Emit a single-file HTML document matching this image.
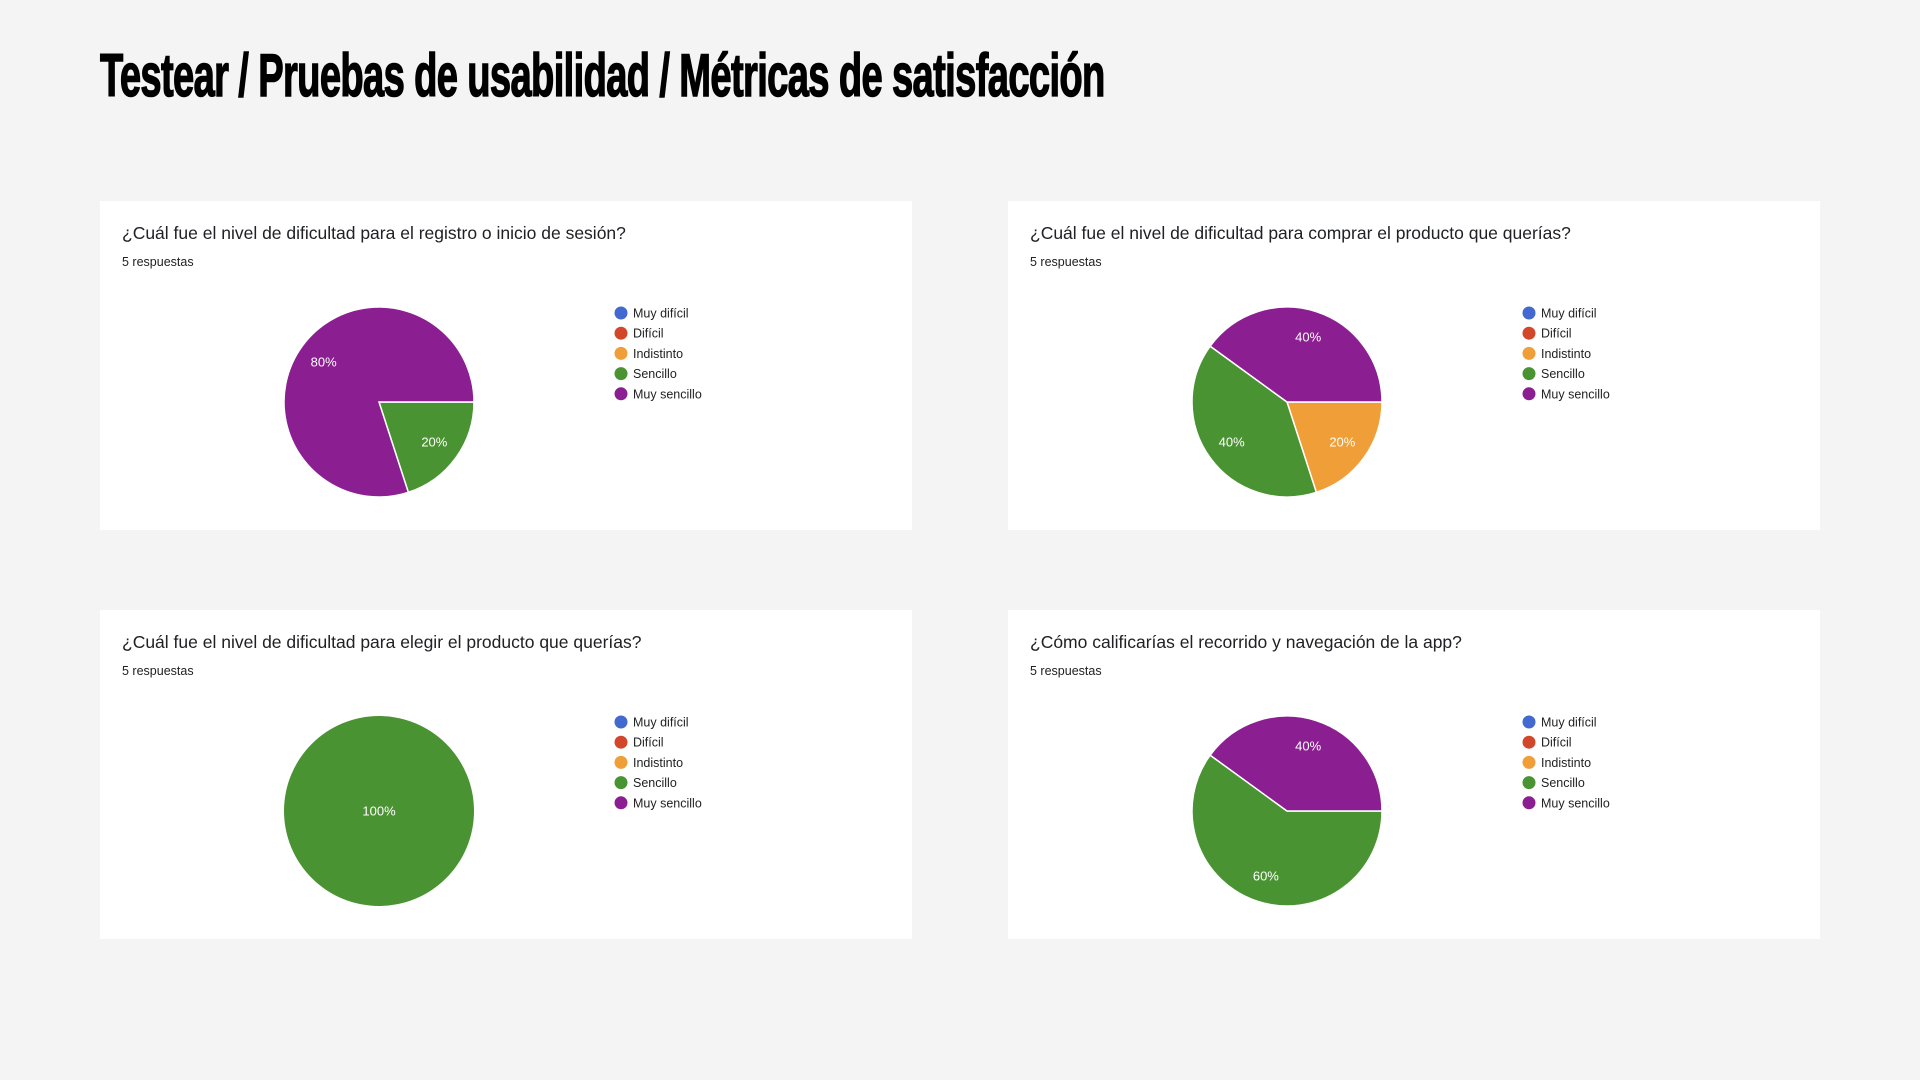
<!DOCTYPE html>
<html><head><meta charset="utf-8">
<style>
html,body{margin:0;padding:0;}
body{width:1920px;height:1080px;background:#f4f4f4;position:relative;overflow:hidden;font-family:"Liberation Sans",sans-serif;}
#title{position:absolute;left:100px;top:46px;font-family:"Liberation Sans Narrow","Liberation Sans",sans-serif;font-weight:bold;font-size:60px;line-height:60px;color:#000;white-space:nowrap;transform-origin:0 0;letter-spacing:-1px;-webkit-text-stroke:1.5px #000;}
.card{position:absolute;width:812px;height:329px;background:#fff;}
.q{position:absolute;left:22px;top:22px;font-size:17.5px;color:#202124;white-space:nowrap;}
.n{position:absolute;left:22px;top:54px;font-size:12.5px;color:#202124;}
.card svg{position:absolute;left:0;top:0;}
</style></head><body>
<div id="title">Testear / Pruebas de usabilidad / Métricas de satisfacción</div>
<div id="cards"></div>
<script>
var categories=["Muy difícil","Difícil","Indistinto","Sencillo","Muy sencillo"];
var colors=["#4169cf","#d2462a","#f09e38","#4a9332","#8b1e91"];
var questions=["¿Cuál fue el nivel de dificultad para el registro o inicio de sesión?","¿Cuál fue el nivel de dificultad para comprar el producto que querías?","¿Cuál fue el nivel de dificultad para elegir el producto que querías?","¿Cómo calificarías el recorrido y navegación de la app?"];
var responses=[5,5,5,5];
var chart1Values=[0,0,0,1,4];
var chart2Values=[0,0,1,2,2];
var chart3Values=[0,0,0,5,0];
var chart4Values=[0,0,0,3,2];
var allValues=[chart1Values,chart2Values,chart3Values,chart4Values];
var cardPos=[[100,201],[1008,201],[100,610],[1008,610]];
var NS="http://www.w3.org/2000/svg";
var CX=279,CY=201,R=95;
function pt(a,r){var t=a*Math.PI/180;return [CX+r*Math.sin(t),CY-r*Math.cos(t)];}
var t=document.getElementById('title');
t.style.transform='scaleX('+(1005/t.offsetWidth)+')';
var wrap=document.getElementById('cards');
questions.forEach(function(q,i){
  var c=document.createElement('div');c.className='card';
  
  
  c.style.left=cardPos[i][0]+'px';c.style.top=cardPos[i][1]+'px';
  var qe=document.createElement('div');qe.className='q';qe.textContent=q;
  
  
  c.appendChild(qe);
  var ne=document.createElement('div');ne.className='n';ne.textContent=responses[i]+' respuestas';
  
  
  c.appendChild(ne);
  var svg=document.createElementNS(NS,'svg');svg.setAttribute('width',812);svg.setAttribute('height',329);
  
  
  var vals=allValues[i];var tot=vals.reduce(function(a,b){return a+b;},0);
  var ang=90;var labels=[];
  vals.forEach(function(v,k){
    if(!v)return;
    var sw=v/tot*360;
    var el;
    if(sw>=359.99){el=document.createElementNS(NS,'circle');el.setAttribute('cx',CX);el.setAttribute('cy',CY);el.setAttribute('r',R);}
    else{
      var p1=pt(ang,R),p2=pt(ang+sw,R);
      el=document.createElementNS(NS,'path');
      el.setAttribute('d','M'+CX+','+CY+' L'+p1[0]+','+p1[1]+' A'+R+','+R+' 0 '+(sw>180?1:0)+' 1 '+p2[0]+','+p2[1]+' Z');
      el.setAttribute('stroke','#fff');el.setAttribute('stroke-width','1.5');
    }
    el.setAttribute('fill',colors[k]);
    
    
    svg.appendChild(el);
    var lp=sw>=359.99?[CX,CY]:pt(ang+sw/2,R*0.72);
    labels.push([lp,Math.round(v/tot*100)+'%']);
    ang+=sw;
  });
  labels.forEach(function(l){
    var tx=document.createElementNS(NS,'text');
    tx.setAttribute('x',l[0][0]);tx.setAttribute('y',l[0][1]+4.5);
    tx.setAttribute('text-anchor','middle');tx.setAttribute('fill','#fff');
    tx.setAttribute('font-size','13');tx.setAttribute('font-family','Liberation Sans, sans-serif');
    tx.textContent=l[1];
    
    
    svg.appendChild(tx);
  });
  categories.forEach(function(cat,k){
    var g=document.createElementNS(NS,'g');
    
    
    var d=document.createElementNS(NS,'circle');
    d.setAttribute('cx',521);d.setAttribute('cy',112+k*20.2);d.setAttribute('r',6.5);d.setAttribute('fill',colors[k]);
    g.appendChild(d);
    var tx=document.createElementNS(NS,'text');
    tx.setAttribute('x',533);tx.setAttribute('y',112+k*20.2+4.5);
    tx.setAttribute('font-size','12.5');tx.setAttribute('fill','#222');tx.setAttribute('font-family','Liberation Sans, sans-serif');
    tx.textContent=cat;g.appendChild(tx);
    svg.appendChild(g);
  });
  c.appendChild(svg);
  wrap.appendChild(c);
});
</script>
</body></html>
